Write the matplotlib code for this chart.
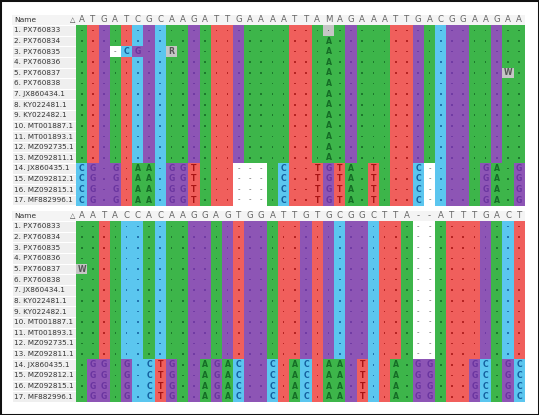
import matplotlib
matplotlib.use('Agg')
import matplotlib.pyplot as plt
from matplotlib.patches import Rectangle

# ---------------- data ----------------
names = ["1. PX760833", "2. PX760834", "3. PX760835", "4. PX760836",
         "5. PX760837", "6. PX760838", "7. JX860434.1", "8. KY022481.1",
         "9. KY022482.1", "10. MT001887.1", "11. MT001893.1", "12. MZ092735.1",
         "13. MZ092811.1", "14. JX860435.1", "15. MZ092812.1", "16. MZ092815.1",
         "17. MF882996.1"]

consensus_top = "ATGATCGCAA" "GATTGAAAAT" "TAMAGAAATT" "GACGGAAGAA"
consensus_bottom = "AATACCACAA" "GGAGTGGATT" "GTGCGGCTTA" "--ATTTGACT"

top_row1 = "." * 40
top_common = "." * 22 + "A" + "." * 17
top_row3 = "...-CG..R" + "." * 13 + "A" + "." * 17
top_row5 = "." * 22 + "A" + "." * 15 + "W."
top_outgroup = "CG.G.AA.GG" "T...---.C." ".TGTA.T..." "C-....GA.G"
rows_top = ([top_row1, top_common, top_row3, top_common, top_row5]
            + [top_common] * 8 + [top_outgroup] * 4)

bot_common = "." * 30 + "--" + "." * 8
bot_row5 = "W" + "." * 29 + "--" + "." * 8
bot_outgroup = ".GG.G.CTG." ".AGAC..C.A" "C.AA.T..A." "GG...GC.GC"
rows_bottom = ([bot_common] * 4 + [bot_row5] + [bot_common] * 8
               + [bot_outgroup] * 4)

# ---------------- style ----------------
BG = {'A': '#3db54a', 'T': '#f05f5c', 'G': '#8d55b5', 'C': '#5bc6ef'}
FG = {'A': '#146b25', 'T': '#a81414', 'G': '#6a35a0', 'C': '#14609f'}
AMBIG_BG = '#c6c6c6'
AMBIG_FG = '#555555'

W, H = 539, 415
fig = plt.figure(figsize=(W / 100, H / 100), dpi=100)

name_left_px = 12.0
aln_left_px = 76.1
col_w_px = 11.22
ncol = 40
aln_right_px = aln_left_px + ncol * col_w_px
name_units = (aln_left_px - name_left_px) / col_w_px


def draw_block(top_px, bottom_px, consensus, rows):
    ax = fig.add_axes([name_left_px / W, 1 - bottom_px / H,
                       (aln_right_px - name_left_px) / W, (bottom_px - top_px) / H])
    ax.set_xlim(-name_units, ncol)
    ax.set_ylim(len(rows), -1)
    ax.axis('off')

    # header
    ax.add_patch(Rectangle((-name_units, -1), name_units + ncol, 1,
                           facecolor='#f4f4f4', edgecolor='none'))
    ax.text(-name_units + 0.2, -0.5, "Name", fontsize=5.4, color='#333333',
            va='center', ha='left')
    ax.text(-0.35, -0.5, "\u25b3", fontsize=5, color='#444444',
            va='center', ha='center')
    for c, ch in enumerate(consensus):
        ax.text(c + 0.5, -0.5, ch, fontsize=6.2, color='#666666',
                va='center', ha='center')

    # names
    for r, nm in enumerate(names):
        ax.add_patch(Rectangle((-name_units, r), name_units, 1,
                               facecolor='#efefef', edgecolor='white', linewidth=0.8))
        ax.text(-name_units + 0.2, r + 0.5, nm, fontsize=5.2, color='#333333',
                va='center', ha='left')

    # cells
    dot_x, dot_y, dot_c = [], [], []
    for r, row in enumerate(rows):
        for c, ch in enumerate(row):
            base = consensus[c] if ch == '.' else ch
            if base == '-':
                ax.add_patch(Rectangle((c, r), 1, 1, facecolor='white', edgecolor='none'))
                ax.text(c + 0.5, r + 0.45, '-', fontsize=5, color='#555555',
                        va='center', ha='center')
                continue
            face = BG.get(base, AMBIG_BG)
            ax.add_patch(Rectangle((c, r), 1.02, 1.02, facecolor=face,
                                   edgecolor='none', linewidth=0))
            if ch == '.':
                dot_x.append(c + 0.5)
                dot_y.append(r + 0.5)
                dot_c.append(FG.get(base, AMBIG_FG))
            else:
                ax.text(c + 0.5, r + 0.5, ch, fontsize=5.6,
                        color=FG.get(ch, AMBIG_FG), fontweight='bold',
                        va='center', ha='center')
    ax.scatter(dot_x, dot_y, s=1.4, c=dot_c, marker='s', linewidths=0, alpha=0.8)
    return ax


draw_block(14.5, 205.5, consensus_top, rows_top)
draw_block(210.5, 402.0, consensus_bottom, rows_bottom)

fig.patches.append(Rectangle((0, 0), 1, 1, transform=fig.transFigure,
                             fill=False, edgecolor='#111111', linewidth=2.2))

fig.savefig('out.png', dpi=100)
